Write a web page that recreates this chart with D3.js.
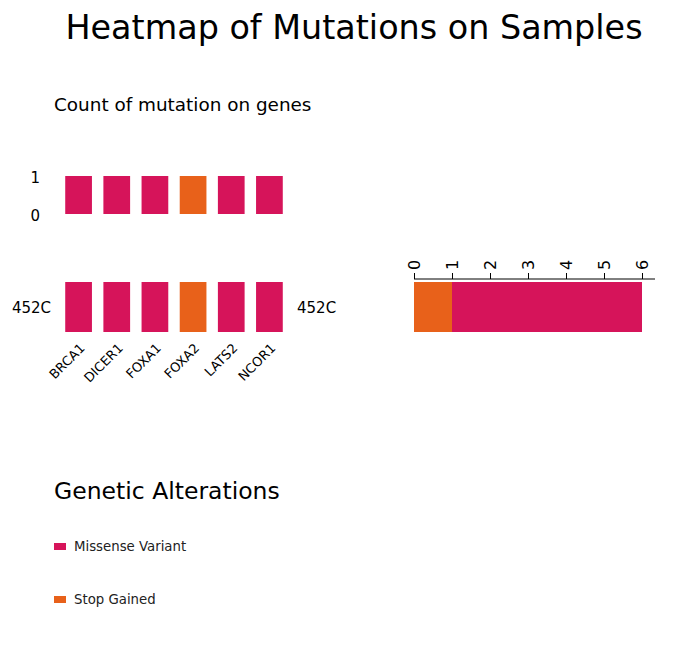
<!DOCTYPE html>
<html>
<head>
<meta charset="utf-8">
<script src="https://cdn.jsdelivr.net/npm/d3@7"></script>
<style>
  body { margin: 0; background: #fff; }
  svg { font-family: "DejaVu Sans", sans-serif; }
</style>
</head>
<body>
<svg id="chart" width="696" height="668"></svg>
<script>
// data
var genes = ['BRCA1', 'DICER1', 'FOXA1', 'FOXA2', 'LATS2', 'NCOR1'];
var geneCounts = [1, 1, 1, 1, 1, 1];
var geneTypes = ['Missense Variant', 'Missense Variant', 'Missense Variant', 'Stop Gained', 'Missense Variant', 'Missense Variant'];
var samples = ['452C'];
var alterationTypes = ['Missense Variant', 'Stop Gained'];
var sampleStack = [
    { type: 'Stop Gained', value: 1 },
    { type: 'Missense Variant', value: 5 }
];
var countTicks = [0, 1, 2, 3, 4, 5, 6];

var colors = d3.scaleOrdinal()
    .domain(alterationTypes)
    .range(['#d6145a', '#e8611a']);

var svg = d3.select('#chart');

svg.append('text')
    .attr('x', 354).attr('y', 39)
    .attr('text-anchor', 'middle')
    .style('font-size', '33.4px')
    .text('Heatmap of Mutations on Samples');

svg.append('text')
    .attr('x', 54).attr('y', 111)
    .style('font-size', '18.4px')
    .text('Count of mutation on genes');

// gene count bars
var xGene = d3.scaleBand()
    .domain(genes)
    .range([59.5, 288.5])
    .paddingInner(0.3)
    .paddingOuter(0.15);
var yCount = d3.scaleLinear().domain([0, 1]).range([214, 176]);

var countBars = svg.append('g');
countBars.selectAll('rect')
    .data(genes)
    .enter()
    .append('rect')
    .attr('x', function (d) { return xGene(d); })
    .attr('y', function (d, i) { return yCount(geneCounts[i]); })
    .attr('width', xGene.bandwidth())
    .attr('height', function (d, i) { return yCount(0) - yCount(geneCounts[i]); })
    .attr('fill', function (d, i) { return colors(geneTypes[i]); });

var yAxis = svg.append('g')
    .attr('transform', 'translate(48,1.5)')
    .call(d3.axisLeft(yCount).tickValues([0, 1]).tickFormat(d3.format('d')).tickSize(0).tickPadding(8));
yAxis.select('.domain').remove();
yAxis.selectAll('text').style('font-size', '15px').style('font-family', '"DejaVu Sans", sans-serif').attr('fill', '#000');

// heatmap
var ySample = d3.scaleBand().domain(samples).range([282, 332]);
svg.append('g')
    .selectAll('rect')
    .data(genes)
    .enter()
    .append('rect')
    .attr('x', function (d) { return xGene(d); })
    .attr('y', ySample(samples[0]))
    .attr('width', xGene.bandwidth())
    .attr('height', ySample.bandwidth())
    .attr('fill', function (d, i) { return colors(geneTypes[i]); });

var leftAxis = svg.append('g')
    .attr('transform', 'translate(57,1)')
    .call(d3.axisLeft(ySample).tickSize(0).tickPadding(6));
leftAxis.select('.domain').remove();
var rightAxis = svg.append('g')
    .attr('transform', 'translate(291,1)')
    .call(d3.axisRight(ySample).tickSize(0).tickPadding(6));
rightAxis.select('.domain').remove();
leftAxis.selectAll('text').style('font-size', '15px').style('font-family', '"DejaVu Sans", sans-serif').attr('fill', '#000');
rightAxis.selectAll('text').style('font-size', '15px').style('font-family', '"DejaVu Sans", sans-serif').attr('fill', '#000');

var xAxis = svg.append('g')
    .attr('transform', 'translate(0,332)')
    .call(d3.axisBottom(xGene).tickSize(0).tickPadding(0));
xAxis.select('.domain').remove();
xAxis.selectAll('text')
    .style('font-size', '13px')
    .style('font-family', '"DejaVu Sans", sans-serif')
    .attr('fill', '#000')
    .attr('text-anchor', 'end')
    .attr('dy', null)
    .attr('y', 0)
    .attr('transform', 'translate(7,17) rotate(-45)');

// stacked sample bar
var xStack = d3.scaleLinear().domain([0, 6]).range([414, 642]);
var acc = 0;
sampleStack.forEach(function (d) { d.x0 = acc; acc += d.value; d.x1 = acc; });
svg.append('g')
    .selectAll('rect')
    .data(sampleStack)
    .enter()
    .append('rect')
    .attr('x', function (d) { return xStack(d.x0); })
    .attr('y', 282)
    .attr('width', function (d) { return xStack(d.x1) - xStack(d.x0); })
    .attr('height', 50)
    .attr('fill', function (d) { return colors(d.type); });

var stackAxis = svg.append('g')
    .attr('transform', 'translate(0,279)')
    .call(d3.axisTop(xStack).tickValues(countTicks).tickFormat(d3.format('d')).tickSize(6).tickSizeOuter(0).tickPadding(3));
stackAxis.select('.domain').attr('d', 'M414,0H655').attr('stroke', '#000');
stackAxis.selectAll('line').attr('stroke', '#000');
stackAxis.selectAll('text')
    .style('font-size', '16px')
    .style('font-family', '"DejaVu Sans", sans-serif')
    .attr('fill', '#000')
    .attr('text-anchor', 'start')
    .attr('dy', '0.35em')
    .attr('y', 0)
    .attr('transform', 'translate(0,-9) rotate(-90)');

// legend
svg.append('text')
    .attr('x', 54).attr('y', 499)
    .style('font-size', '23.5px')
    .text('Genetic Alterations');

var legend = svg.append('g')
    .selectAll('g')
    .data(alterationTypes)
    .enter()
    .append('g')
    .attr('transform', function (d, i) { return 'translate(54,' + (543 + i * 53) + ')'; });
legend.append('rect')
    .attr('width', 12).attr('height', 7)
    .attr('fill', function (d) { return colors(d); });
legend.append('text')
    .attr('x', 20).attr('y', 8)
    .style('font-size', '13.3px')
    .attr('fill', '#222')
    .text(function (d) { return d; });
</script>
</body>
</html>
